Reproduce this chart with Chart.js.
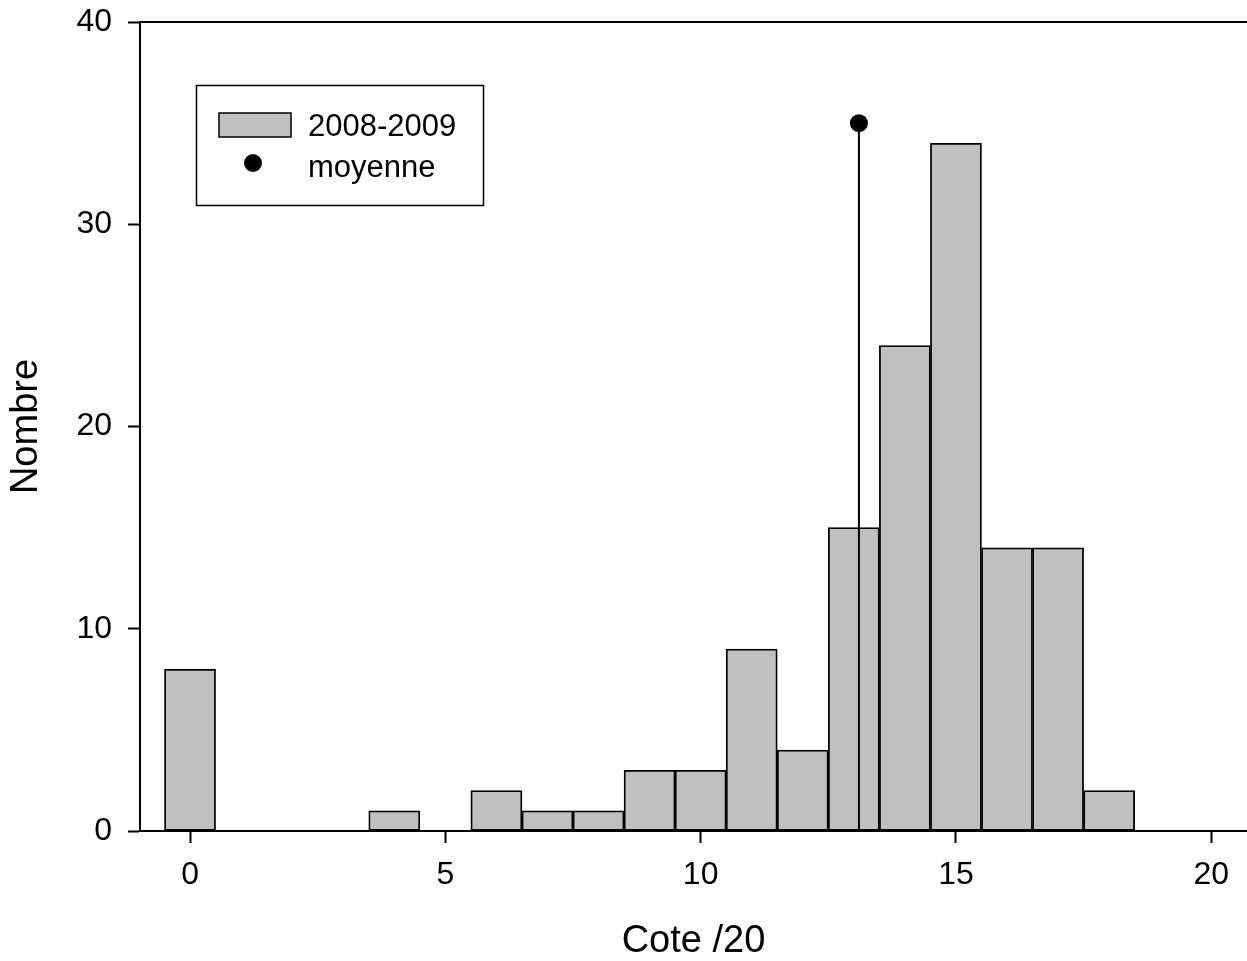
<!DOCTYPE html>
<html>
<head>
<meta charset="utf-8">
<script src="https://cdn.jsdelivr.net/npm/chart.js@4"></script>
<style>
  html, body { margin: 0; padding: 0; background: #fff; }
  #chart { display: block; }
</style>
</head>
<body>
<canvas id="chart" width="1247" height="961"></canvas>
<script>
// histogram of scores /20, one bar per integer score
const scores = [0, 1, 2, 3, 4, 5, 6, 7, 8, 9, 10, 11, 12, 13, 14, 15, 16, 17, 18, 19, 20];
const counts = [8, 0, 0, 0, 1, 0, 2, 1, 1, 3, 3, 9, 4, 15, 24, 34, 14, 14, 2, 0, 0];

// mean marker: vertical stem from 0 up to the dot
const meanX = [13.1, 13.1];
const meanY = [0, 35];

const xTicks = [0, 5, 10, 15, 20];
const yTicks = [0, 10, 20, 30, 40];

const seriesLabel = '2008-2009';
const meanLabel = 'moyenne';

const FONT = "'Liberation Sans', Arial, Helvetica, sans-serif";

// legend box + top frame line, drawn by hand (legend sits inside the plot)
const legendBox = {
  id: 'legendBox',
  afterDraw(chart) {
    const ctx = chart.ctx;
    const area = chart.chartArea;
    ctx.save();

    // top frame line
    ctx.strokeStyle = '#000';
    ctx.lineWidth = 2;
    ctx.beginPath();
    ctx.moveTo(area.left, area.top);
    ctx.lineTo(area.right, area.top);
    ctx.stroke();

    // box
    ctx.lineWidth = 1.5;
    ctx.strokeRect(196.5, 85.5, 287, 120);

    // bar swatch
    ctx.fillStyle = '#c0c0c0';
    ctx.fillRect(219, 113, 72, 24);
    ctx.strokeRect(219, 113, 72, 24);

    // dot
    ctx.fillStyle = '#000';
    ctx.beginPath();
    ctx.arc(253, 163, 9, 0, Math.PI * 2);
    ctx.fill();

    ctx.font = '31px ' + FONT;
    ctx.textBaseline = 'alphabetic';
    ctx.textAlign = 'left';
    ctx.fillText(seriesLabel, 308, 136);
    ctx.fillText(meanLabel, 308, 177);
    ctx.restore();
  }
};

new Chart(document.getElementById('chart'), {
  type: 'bar',
  data: {
    datasets: [
      {
        type: 'line',
        label: meanLabel,
        data: meanX.map((x, i) => ({ x, y: meanY[i] })),
        borderColor: '#000',
        borderWidth: 2,
        pointRadius: [0, 9],
        pointBackgroundColor: '#000',
        pointBorderWidth: 0,
        clip: false,
        order: 0
      },
      {
        label: seriesLabel,
        data: scores.map((s, i) => ({ x: s, y: counts[i] })),
        backgroundColor: '#c0c0c0',
        borderColor: '#000',
        borderWidth: 1.8,
        borderSkipped: false,
        barPercentage: 1,
        categoryPercentage: 1,
        order: 1
      }
    ]
  },
  options: {
    responsive: false,
    animation: false,
    layout: { autoPadding: false, padding: { top: 22, right: 0, left: 0, bottom: 0 } },
    plugins: {
      legend: { display: false },
      tooltip: { enabled: false }
    },
    scales: {
      x: {
        type: 'linear',
        min: -0.98,
        max: 20.7,
        offset: false,
        afterFit: s => {
          s.height = 130;
          s.paddingLeft = 0;
          s.paddingRight = 0;
        },
        afterBuildTicks: s => { s.ticks = xTicks.map(v => ({ value: v })); },
        grid: {
          offset: false,
          drawOnChartArea: false,
          drawTicks: true,
          tickLength: 12,
          tickWidth: 2,
          tickColor: '#000'
        },
        border: { display: true, color: '#000', width: 2 },
        ticks: {
          color: '#000',
          padding: 13,
          maxRotation: 0,
          font: { family: FONT, size: 32 }
        },
        title: {
          display: true,
          text: 'Cote /20',
          color: '#000',
          font: { family: FONT, size: 38, lineHeight: 1 },
          padding: { top: 0, bottom: 0 }
        }
      },
      y: {
        min: 0,
        max: 40,
        afterFit: s => {
          s.width = 140;
          s.paddingTop = 0;
          s.paddingBottom = 0;
        },
        afterBuildTicks: s => { s.ticks = yTicks.map(v => ({ value: v })); },
        grid: {
          drawOnChartArea: false,
          drawTicks: true,
          tickLength: 12,
          tickWidth: 2,
          tickColor: '#000'
        },
        border: { display: true, color: '#000', width: 2 },
        ticks: {
          color: '#000',
          padding: 16,
          font: { family: FONT, size: 32 }
        },
        title: {
          display: true,
          text: 'Nombre',
          color: '#000',
          font: { family: FONT, size: 38, lineHeight: 1 },
          padding: { top: 8, bottom: 0 }
        }
      }
    }
  },
  plugins: [legendBox]
});
</script>
</body>
</html>
